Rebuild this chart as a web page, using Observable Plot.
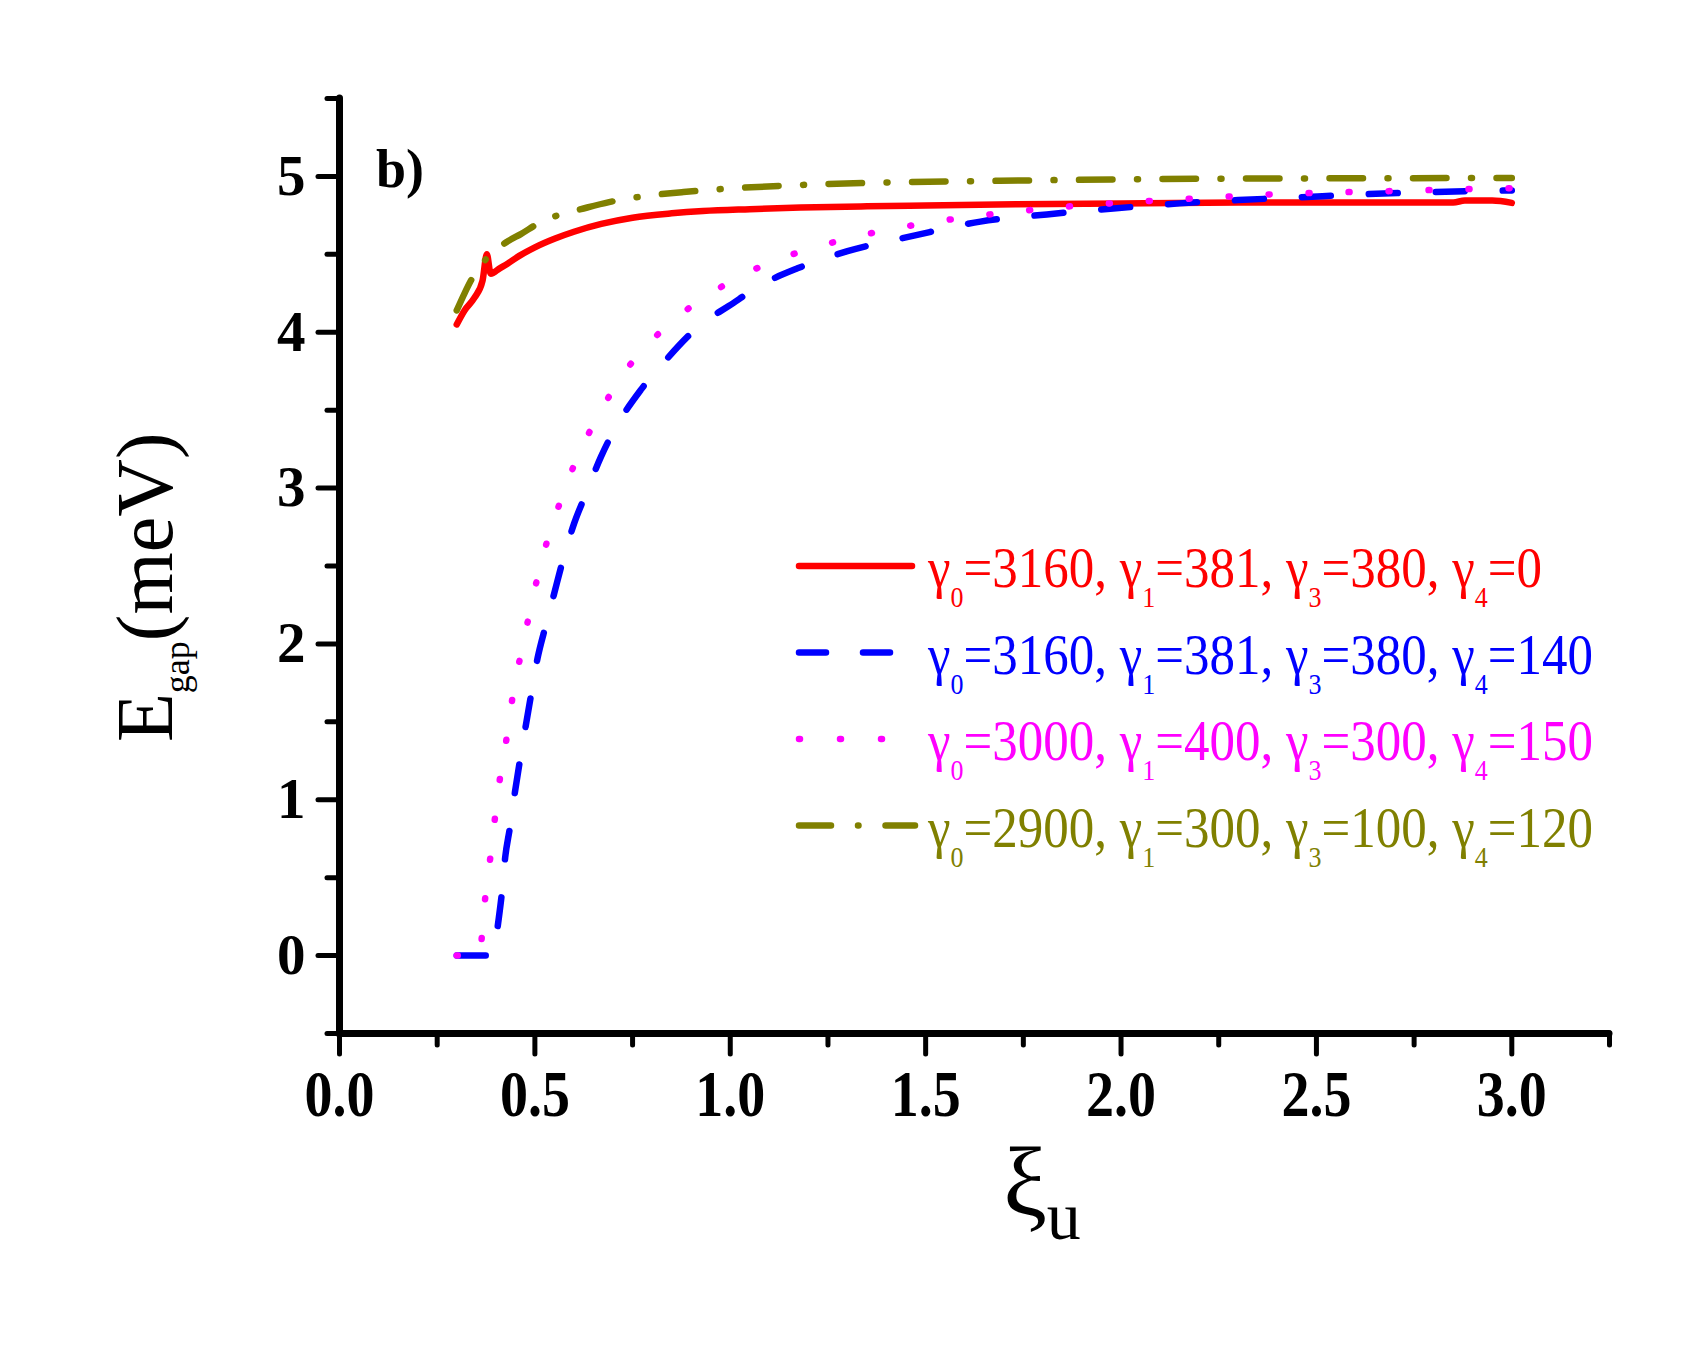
<!DOCTYPE html>
<html>
<head>
<meta charset="utf-8">
<script src="https://cdn.jsdelivr.net/npm/d3@7"></script>
<script src="https://cdn.jsdelivr.net/npm/@observablehq/plot@0.6"></script>
<style>
  html, body { margin: 0; padding: 0; background: #fff; }
</style>
</head>
<body>
<div id="chart"></div>
<script>
// Energy gap E_gap (meV) versus ξu for four sets of hopping parameters γ0, γ1, γ3, γ4.

const redX = [0.30, 0.32, 0.345, 0.366, 0.377, 0.387, 0.41, 0.43, 0.46, 0.50, 0.55, 0.60, 0.67, 0.75, 0.85, 0.93, 1.05, 1.18, 1.35, 1.50, 1.73, 2.00, 2.30, 2.60, 2.85, 2.88, 2.95, 3.00];
const redY = [4.05, 4.14, 4.22, 4.33, 4.50, 4.375, 4.41, 4.44, 4.49, 4.545, 4.60, 4.645, 4.695, 4.735, 4.763, 4.778, 4.79, 4.80, 4.808, 4.814, 4.821, 4.827, 4.832, 4.833, 4.833, 4.845, 4.845, 4.83];

const blueX = [0.30, 0.395, 0.405, 0.415, 0.424, 0.436, 0.449, 0.461, 0.477, 0.49, 0.507, 0.528, 0.549, 0.571, 0.60, 0.63, 0.669, 0.707, 0.771, 0.831, 0.925, 0.997, 1.091, 1.172, 1.30, 1.47, 1.64, 1.81, 1.98, 2.15, 2.30, 2.455, 2.626, 2.80, 3.00];
const blueY = [0, 0, 0.19, 0.39, 0.63, 0.82, 1.05, 1.24, 1.48, 1.67, 1.91, 2.12, 2.32, 2.53, 2.77, 2.96, 3.20, 3.39, 3.63, 3.81, 4.05, 4.17, 4.32, 4.41, 4.52, 4.62, 4.71, 4.756, 4.794, 4.827, 4.848, 4.866, 4.886, 4.90, 4.91];

const magentaX = [0.30, 0.36, 0.364, 0.373, 0.386, 0.398, 0.411, 0.428, 0.443, 0.462, 0.484, 0.507, 0.535, 0.569, 0.609, 0.659, 0.720, 0.808, 0.908, 1.012, 1.114, 1.217, 1.319, 1.421, 1.524, 1.626, 1.728, 1.831, 1.933, 2.035, 2.138, 2.238, 2.34, 2.443, 2.545, 2.647, 2.75, 2.852, 2.955, 3.00];
const magentaY = [0, 0, 0.116, 0.373, 0.63, 0.887, 1.144, 1.40, 1.66, 1.91, 2.17, 2.43, 2.69, 2.94, 3.20, 3.45, 3.71, 3.97, 4.18, 4.34, 4.46, 4.544, 4.612, 4.666, 4.709, 4.745, 4.773, 4.80, 4.82, 4.837, 4.852, 4.865, 4.88, 4.89, 4.897, 4.903, 4.91, 4.916, 4.923, 4.925];

const oliveX = [0.30, 0.32, 0.345, 0.375, 0.405, 0.435, 0.464, 0.51, 0.558, 0.618, 0.69, 0.771, 0.88, 0.984, 1.17, 1.37, 1.69, 2.02, 2.23, 2.60, 3.00];
const oliveY = [4.14, 4.25, 4.37, 4.47, 4.54, 4.59, 4.63, 4.70, 4.75, 4.79, 4.835, 4.87, 4.90, 4.92, 4.944, 4.959, 4.972, 4.981, 4.985, 4.988, 4.99];

// Legend parameters (meV) for each curve: red, blue, magenta, olive
const gamma0 = [3160, 3160, 3000, 2900];
const gamma1 = [381, 381, 400, 300];
const gamma3 = [380, 380, 300, 100];
const gamma4 = [0, 140, 150, 120];

const xMajor = [0, 0.5, 1.0, 1.5, 2.0, 2.5, 3.0];
const xMinor = [0.25, 0.75, 1.25, 1.75, 2.25, 2.75, 3.25];
const yMajor = [0, 1, 2, 3, 4, 5];
const yMinor = [-0.5, 0.5, 1.5, 2.5, 3.5, 4.5, 5.5];

const toRows = (xs, ys) => xs.map((x, i) => ({x, y: ys[i]}));

const series = [
  {rows: toRows(redX, redY), color: "#ff0000", dash: null, legendDash: null, legendEnd: 912},
  {rows: toRows(blueX, blueY), color: "#0000ff", dash: "29,38", legendDash: "27,37", legendEnd: 912},
  {rows: toRows(magentaX, magentaY), color: "#ff00ff", dash: "1,39", legendDash: "1,40", legendEnd: 921},
  {rows: toRows(oliveX, oliveY), color: "#808000", dash: "33.5,24.5,1,24.5", legendDash: "32,27,0.5,27", legendEnd: 915}
];

const serif = "'Liberation Serif', 'Times New Roman', Times, serif";
const lineWidth = 6.5;

const curve = (s) => Plot.line(s.rows, {
  x: "x", y: "y", stroke: s.color, strokeWidth: lineWidth,
  strokeDasharray: s.dash, strokeLinecap: "round", strokeLinejoin: "round",
  curve: "monotone-x"
});

const chart = Plot.plot({
  width: 1707,
  height: 1348,
  marginLeft: 339,
  marginRight: 98,
  marginTop: 98,
  marginBottom: 315,
  style: {fontFamily: serif, color: "black", background: "white"},
  x: {domain: [0, 3.25]},
  y: {domain: [-0.5, 5.5]},
  marks: [
    Plot.axisX({ticks: xMajor, tickSize: 21, tickPadding: 15, tickFormat: d => d.toFixed(1),
      fontSize: 56, fontWeight: "bold", strokeWidth: 5, strokeLinecap: "round", label: null}),
    Plot.axisX({ticks: xMinor, tickSize: 12, tickFormat: () => "", strokeWidth: 5, strokeLinecap: "round", label: null}),
    Plot.axisY({ticks: yMajor, tickSize: 21, tickPadding: 13, tickFormat: d => String(d),
      fontSize: 57, fontWeight: "bold", strokeWidth: 5, strokeLinecap: "round", label: null}),
    Plot.axisY({ticks: yMinor, tickSize: 12, tickFormat: () => "", strokeWidth: 5, strokeLinecap: "round", label: null}),
    Plot.ruleX([0], {strokeWidth: 7, strokeLinecap: "round"}),
    Plot.ruleY([-0.5], {strokeWidth: 7, strokeLinecap: "round"}),
    curve(series[0]),
    curve(series[3]),
    curve(series[1]),
    curve(series[2])
  ]
});

document.getElementById("chart").appendChild(chart);

const svg = d3.select(chart);

// Tall, narrow x tick numerals
svg.selectAll('g[aria-label="x-axis tick label"] text')
  .attr("transform", function() { return (this.getAttribute("transform") || "") + " scale(1,1.18)"; });

// Panel tag
svg.append("text")
  .attr("x", 376).attr("y", 187).attr("text-anchor", "start")
  .attr("font-family", serif).attr("font-size", 54).attr("font-weight", "bold")
  .attr("fill", "black")
  .text("b)");

// Y axis title: E_gap(meV)
const yTitle = svg.append("text")
  .attr("transform", "translate(172,742) rotate(-90)").attr("text-anchor", "start")
  .attr("font-family", serif).attr("font-size", 80).attr("fill", "black");
yTitle.append("tspan").text("E");
yTitle.append("tspan").attr("dy", 17).attr("font-size", 36).text("gap");
yTitle.append("tspan").attr("dy", -17).text("(meV)");

// X axis title: ξ_u
const xTitle = svg.append("text")
  .attr("x", 1042).attr("y", 1215).attr("text-anchor", "middle")
  .attr("font-family", serif).attr("font-size", 98).attr("fill", "black");
xTitle.append("tspan").text("ξ");
xTitle.append("tspan").attr("dy", 24).attr("font-size", 68).text("u");

// Legend
const legend = svg.append("g").attr("font-family", serif).attr("font-size", 51).attr("text-anchor", "start");
const rowY0 = 566, rowStep = 86.5, subShift = 18;
series.forEach((s, i) => {
  const y = rowY0 + i * rowStep;
  legend.append("line")
    .attr("x1", 799).attr("x2", s.legendEnd).attr("y1", y).attr("y2", y)
    .attr("stroke", s.color).attr("stroke-width", lineWidth)
    .attr("stroke-linecap", "round")
    .attr("stroke-dasharray", s.legendDash);
  const t = legend.append("text")
    .attr("transform", `translate(928,${y + 21}) scale(1,1.12)`)
    .attr("fill", s.color);
  const parts = [["0", gamma0[i]], ["1", gamma1[i]], ["3", gamma3[i]], ["4", gamma4[i]]];
  parts.forEach(([sub, v], k) => {
    t.append("tspan").text((k > 0 ? ", " : "") + "γ");
    t.append("tspan").attr("dy", subShift).attr("font-size", 26).text(sub);
    t.append("tspan").attr("dy", -subShift).text("=" + v);
  });
});
</script>
</body>
</html>
